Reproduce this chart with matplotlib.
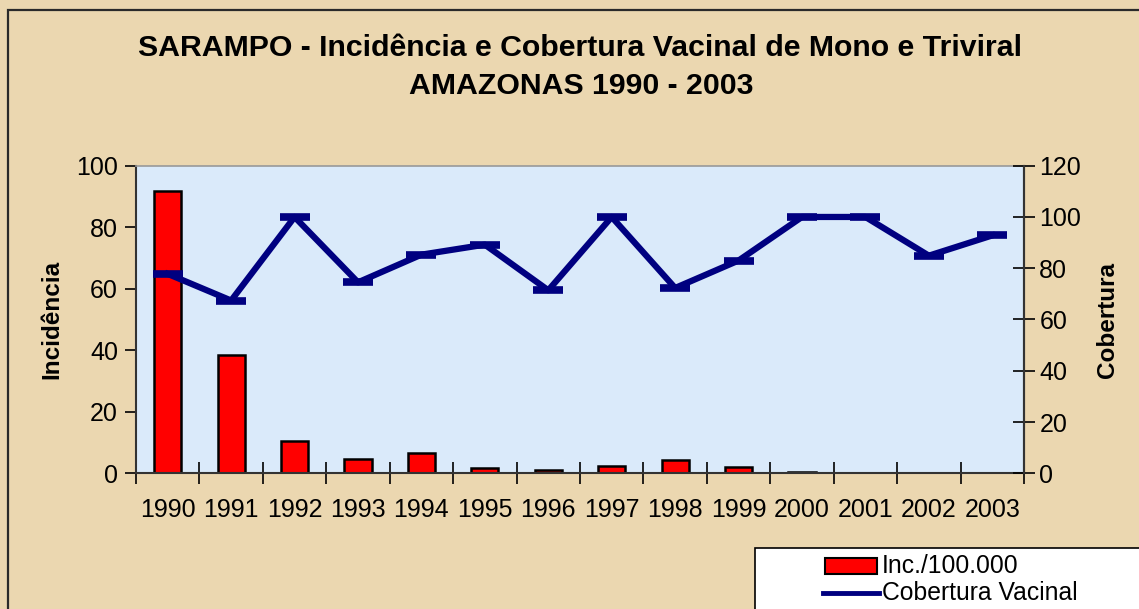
import matplotlib
matplotlib.use("Agg")
import matplotlib.pyplot as plt
from matplotlib.patches import Rectangle
from matplotlib.lines import Line2D
import numpy as np

years = ["1990", "1991", "1992", "1993", "1994", "1995", "1996", "1997",
         "1998", "1999", "2000", "2001", "2002", "2003"]
incidencia = [91.8, 38.3, 10.5, 4.6, 6.5, 1.8, 1.0, 2.4, 4.4, 2.1, 0.3, 0.0, 0.0, 0.0]
cobertura = [77.8, 67.4, 100.0, 74.5, 85.3, 89.2, 71.4, 100.0, 72.3, 83.0, 100.0, 100.0, 84.9, 92.8]
left_ticks = [0, 20, 40, 60, 80, 100]
right_ticks = [0, 20, 40, 60, 80, 100, 120]

plt.rcParams['font.family'] = ['Liberation Sans', 'DejaVu Sans']

W, H = 1139, 609
fig = plt.figure(figsize=(W / 100, H / 100), dpi=100)
fig.patch.set_facecolor('#EBD7B0')

def fx(px):
    return px / W

def fy(py):
    return 1 - py / H

# outer border
fig.patches.append(Rectangle((fx(8), fy(700)), fx(1200), fy(10) - fy(700),
                             transform=fig.transFigure, fill=False,
                             edgecolor='#2a2a2a', lw=1.6, zorder=0))

L, R, T, B = 136, 1024, 165.7, 473.3
ax = fig.add_axes([fx(L), fy(B), fx(R - L), fy(T) - fy(B)])
ax.set_facecolor('#DAEAFA')

x = np.arange(len(years))
ax.bar(x, incidencia, width=0.43, color='#FF0000', edgecolor='black', lw=1.8, zorder=2)
ax.set_xlim(-0.5, len(years) - 0.5)
ax.set_ylim(0, 100)
ax.set_yticks(left_ticks)
ax.tick_params(axis='y', labelsize=18, direction='out', length=8, width=1.2, pad=5)

ax.set_xticks(np.arange(-0.5, len(years), 1.0))
ax.set_xticklabels([])
ax.set_xticks(x, minor=True)
ax.set_xticklabels(years, minor=True)
ax.tick_params(axis='x', which='major', direction='inout', length=16, width=1.2)
ax.tick_params(axis='x', which='minor', length=0, labelsize=18, pad=18)

for s in ['left', 'bottom', 'right']:
    ax.spines[s].set_color('#333333')
    ax.spines[s].set_linewidth(1.5)
ax.spines['top'].set_color('#999999')
ax.spines['top'].set_linewidth(1.2)

ax.set_ylabel('Incidência', fontsize=17.5, fontweight='bold', labelpad=9)

ax2 = ax.twinx()
ax2.plot(x, cobertura, color='#000080', lw=4.5, marker='_', markersize=21,
         markeredgewidth=5.5, zorder=3)
ax2.set_ylim(0, 120)
ax2.set_yticks(right_ticks)
ax2.tick_params(axis='y', labelsize=18, direction='inout', length=16, width=1.2, pad=3)
ax2.spines['right'].set_color('#333333')
ax2.spines['right'].set_linewidth(1.5)
ax2.spines['top'].set_visible(False)
ax2.spines['left'].set_visible(False)
ax2.spines['bottom'].set_visible(False)
ax2.set_ylabel('Cobertura', fontsize=17.5, fontweight='bold', labelpad=11)

fig.text(fx(580), fy(48), 'SARAMPO - Incidência e Cobertura Vacinal de Mono e Triviral',
         ha='center', va='center', fontsize=21.8, fontweight='bold')
fig.text(fx(581), fy(86), 'AMAZONAS 1990 - 2003',
         ha='center', va='center', fontsize=21.8, fontweight='bold')

# legend
fig.patches.append(Rectangle((fx(755), fy(700)), fx(500), fy(548) - fy(700),
                             transform=fig.transFigure, facecolor='white',
                             edgecolor='black', lw=1.2, zorder=5))
fig.patches.append(Rectangle((fx(825), fy(574)), fx(52), fy(558) - fy(574),
                             transform=fig.transFigure, facecolor='#FF0000',
                             edgecolor='black', lw=1.5, zorder=6))
fig.lines.append(Line2D([fx(823), fx(879)], [fy(593), fy(593)],
                        transform=fig.transFigure, color='#000080', lw=3.5, zorder=6))
fig.text(fx(882), fy(566), 'Inc./100.000', ha='left', va='center', fontsize=17.8, zorder=7)
fig.text(fx(882), fy(593), 'Cobertura Vacinal', ha='left', va='center', fontsize=17.8, zorder=7)

fig.savefig('out.png', dpi=100, facecolor=fig.get_facecolor())
